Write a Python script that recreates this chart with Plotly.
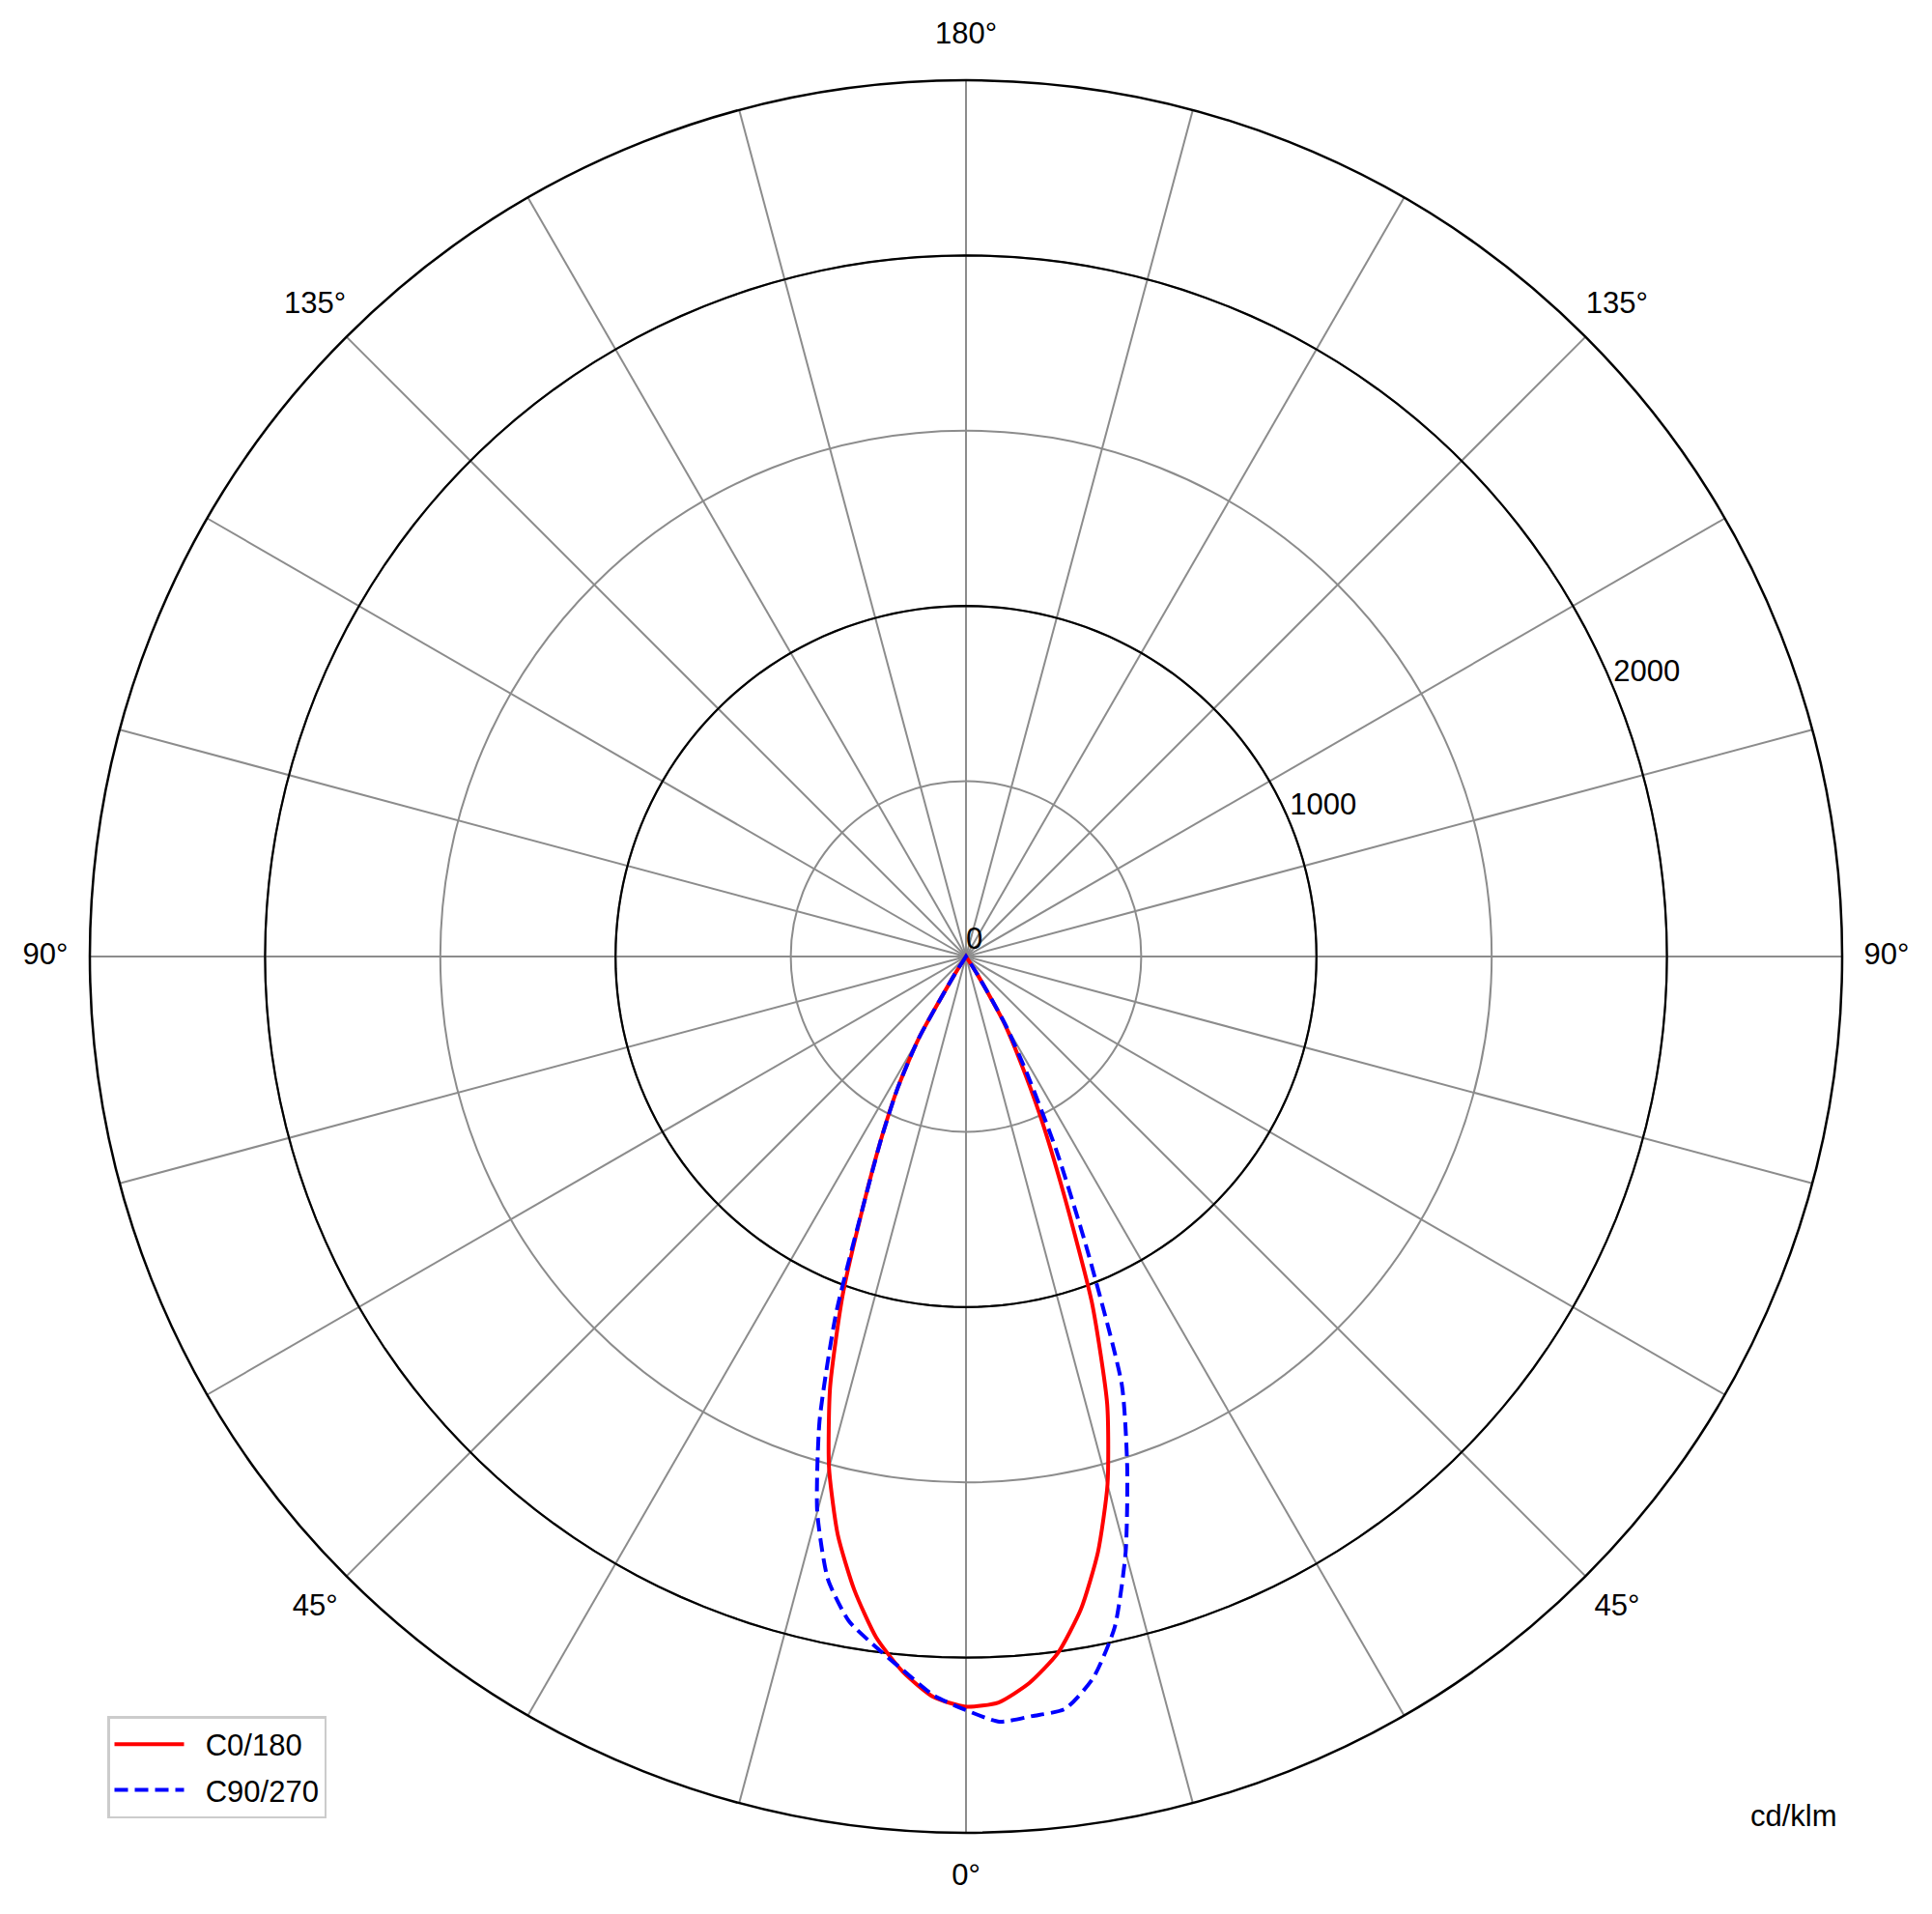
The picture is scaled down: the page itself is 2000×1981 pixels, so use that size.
import plotly.graph_objects as go

# gamma angles (degrees from nadir)
gamma = [0, 2.5, 5, 7.5, 10, 12.5, 15, 17.5, 20, 22.5, 25, 27.5, 30, 32.5, 35, 40, 45, 50, 60, 70, 80, 90]

# luminous intensity, cd/klm
c0 =   [2140, 2130, 2080, 2005, 1890, 1740, 1560, 1340, 1050, 720, 500, 330, 210, 60, 0, 0, 0, 0, 0, 0, 0, 0]
c180 = [2140, 2115, 2050, 1960, 1835, 1690, 1510, 1290, 1030, 760, 570, 420, 270, 60, 0, 0, 0, 0, 0, 0, 0, 0]
c90 =  [2150, 2185, 2175, 2165, 2090, 1960, 1760, 1530, 1300, 900, 610, 380, 230, 60, 0, 0, 0, 0, 0, 0, 0, 0]
c270 = [2150, 2110, 2045, 1985, 1925, 1820, 1640, 1390, 1085, 760, 570, 420, 270, 60, 0, 0, 0, 0, 0, 0, 0, 0]

ring_values = [500, 1000, 1500, 2000]
major_rings = [1000, 2000]
r_max = 2500
radial_labels = ["0", "1000", "2000"]
radial_label_vals = [0, 1000, 2000]
radial_label_theta = 112.5

spokes = list(range(0, 360, 15))
angle_label_theta = [0, 45, 90, 135, 180, 225, 270, 315]
angle_label_text = ["0°", "45°", "90°", "135°", "180°", "135°", "90°", "45°"]

FONT = "Liberation Sans, Arial, sans-serif"
FS = 31

def both_sides(right, left):
    th = [-g for g in reversed(gamma)] + gamma[1:]
    rr = list(reversed(left)) + right[1:]
    return rr, th

OFF = 8  # default page body margin
W, H = 2000 - 2 * OFF, 1981 - 2 * OFF
cx, cy, R = 1000 - OFF, 990 - OFF, 907
R2 = R + 46  # label circle

def dom(rad):
    return dict(x=[(cx - rad) / W, (cx + rad) / W],
                y=[(H - cy - rad) / H, (H - cy + rad) / H])

fig = go.Figure()

# darker rings at major values
circle_theta = [i * 2 for i in range(181)]
for rv in major_rings:
    fig.add_trace(go.Scatterpolar(r=[rv] * len(circle_theta), theta=circle_theta,
                                  mode="lines", line=dict(color="black", width=2.2),
                                  showlegend=False, hoverinfo="skip"))

# radial value labels
fig.add_trace(go.Scatterpolar(r=radial_label_vals, theta=[radial_label_theta] * 3,
                              mode="text", text=radial_labels, textposition="top right",
                              textfont=dict(family=FONT, size=FS, color="black"),
                              showlegend=False, hoverinfo="skip"))

r, th = both_sides(c0, c180)
fig.add_trace(go.Scatterpolar(r=r, theta=th, mode="lines", name="\u00a0\u00a0C0/180", legendgroup="a",
                              line=dict(color="#ff0000", width=4, shape="spline", smoothing=0.6)))
r, th = both_sides(c90, c270)
fig.add_trace(go.Scatterpolar(r=r, theta=th, mode="lines", name="\u00a0\u00a0C90/270", legendgroup="b",
                              line=dict(color="#0000ff", width=4, dash="14px,7px",
                                        shape="spline", smoothing=0.6)))

# angle labels on a slightly larger, invisible polar frame
fig.add_trace(go.Scatterpolar(r=[1] * len(angle_label_theta), theta=angle_label_theta,
                              mode="text", text=angle_label_text, textposition="middle center",
                              cliponaxis=False, subplot="polar2",
                              textfont=dict(family=FONT, size=FS, color="black"),
                              showlegend=False, hoverinfo="skip"))

fig.update_layout(
    width=W, height=H,
    margin=dict(l=0, r=0, t=0, b=0),
    paper_bgcolor="white",
    font=dict(family=FONT, size=FS, color="black"),
    polar=dict(
        domain=dom(R),
        bgcolor="white",
        angularaxis=dict(
            rotation=-90, direction="counterclockwise",
            tickmode="array", tickvals=spokes, showticklabels=False,
            showgrid=True, gridcolor="#8c8c8c", gridwidth=1.5,
            showline=True, linecolor="black", linewidth=2.5,
            ticks="",
        ),
        radialaxis=dict(
            range=[0, r_max], angle=22.5,
            tickmode="array", tickvals=ring_values,
            showticklabels=False,
            showgrid=True, gridcolor="#8c8c8c", gridwidth=1.5,
            showline=False, ticks="",
        ),
    ),
    polar2=dict(
        domain=dom(R2),
        bgcolor="rgba(0,0,0,0)",
        angularaxis=dict(rotation=-90, direction="counterclockwise",
                         showgrid=False, showline=False, showticklabels=False, ticks=""),
        radialaxis=dict(range=[0, 1], visible=False, showgrid=False),
    ),
    legend=dict(x=(111 - OFF) / W, y=1 - (1776 - OFF) / H, xanchor="left", yanchor="top",
                bgcolor="white", bordercolor="#cccccc", borderwidth=2.5,
                font=dict(family=FONT, size=FS, color="black"),
                itemwidth=72, tracegroupgap=4, traceorder="grouped"),
    annotations=[dict(text="cd/klm", x=(1857 - OFF) / W, y=1 - (1879 - OFF) / H,
                      xref="paper", yref="paper", xanchor="center", yanchor="middle",
                      showarrow=False, font=dict(family=FONT, size=FS, color="black"))],
)

fig.write_html("out.html")
